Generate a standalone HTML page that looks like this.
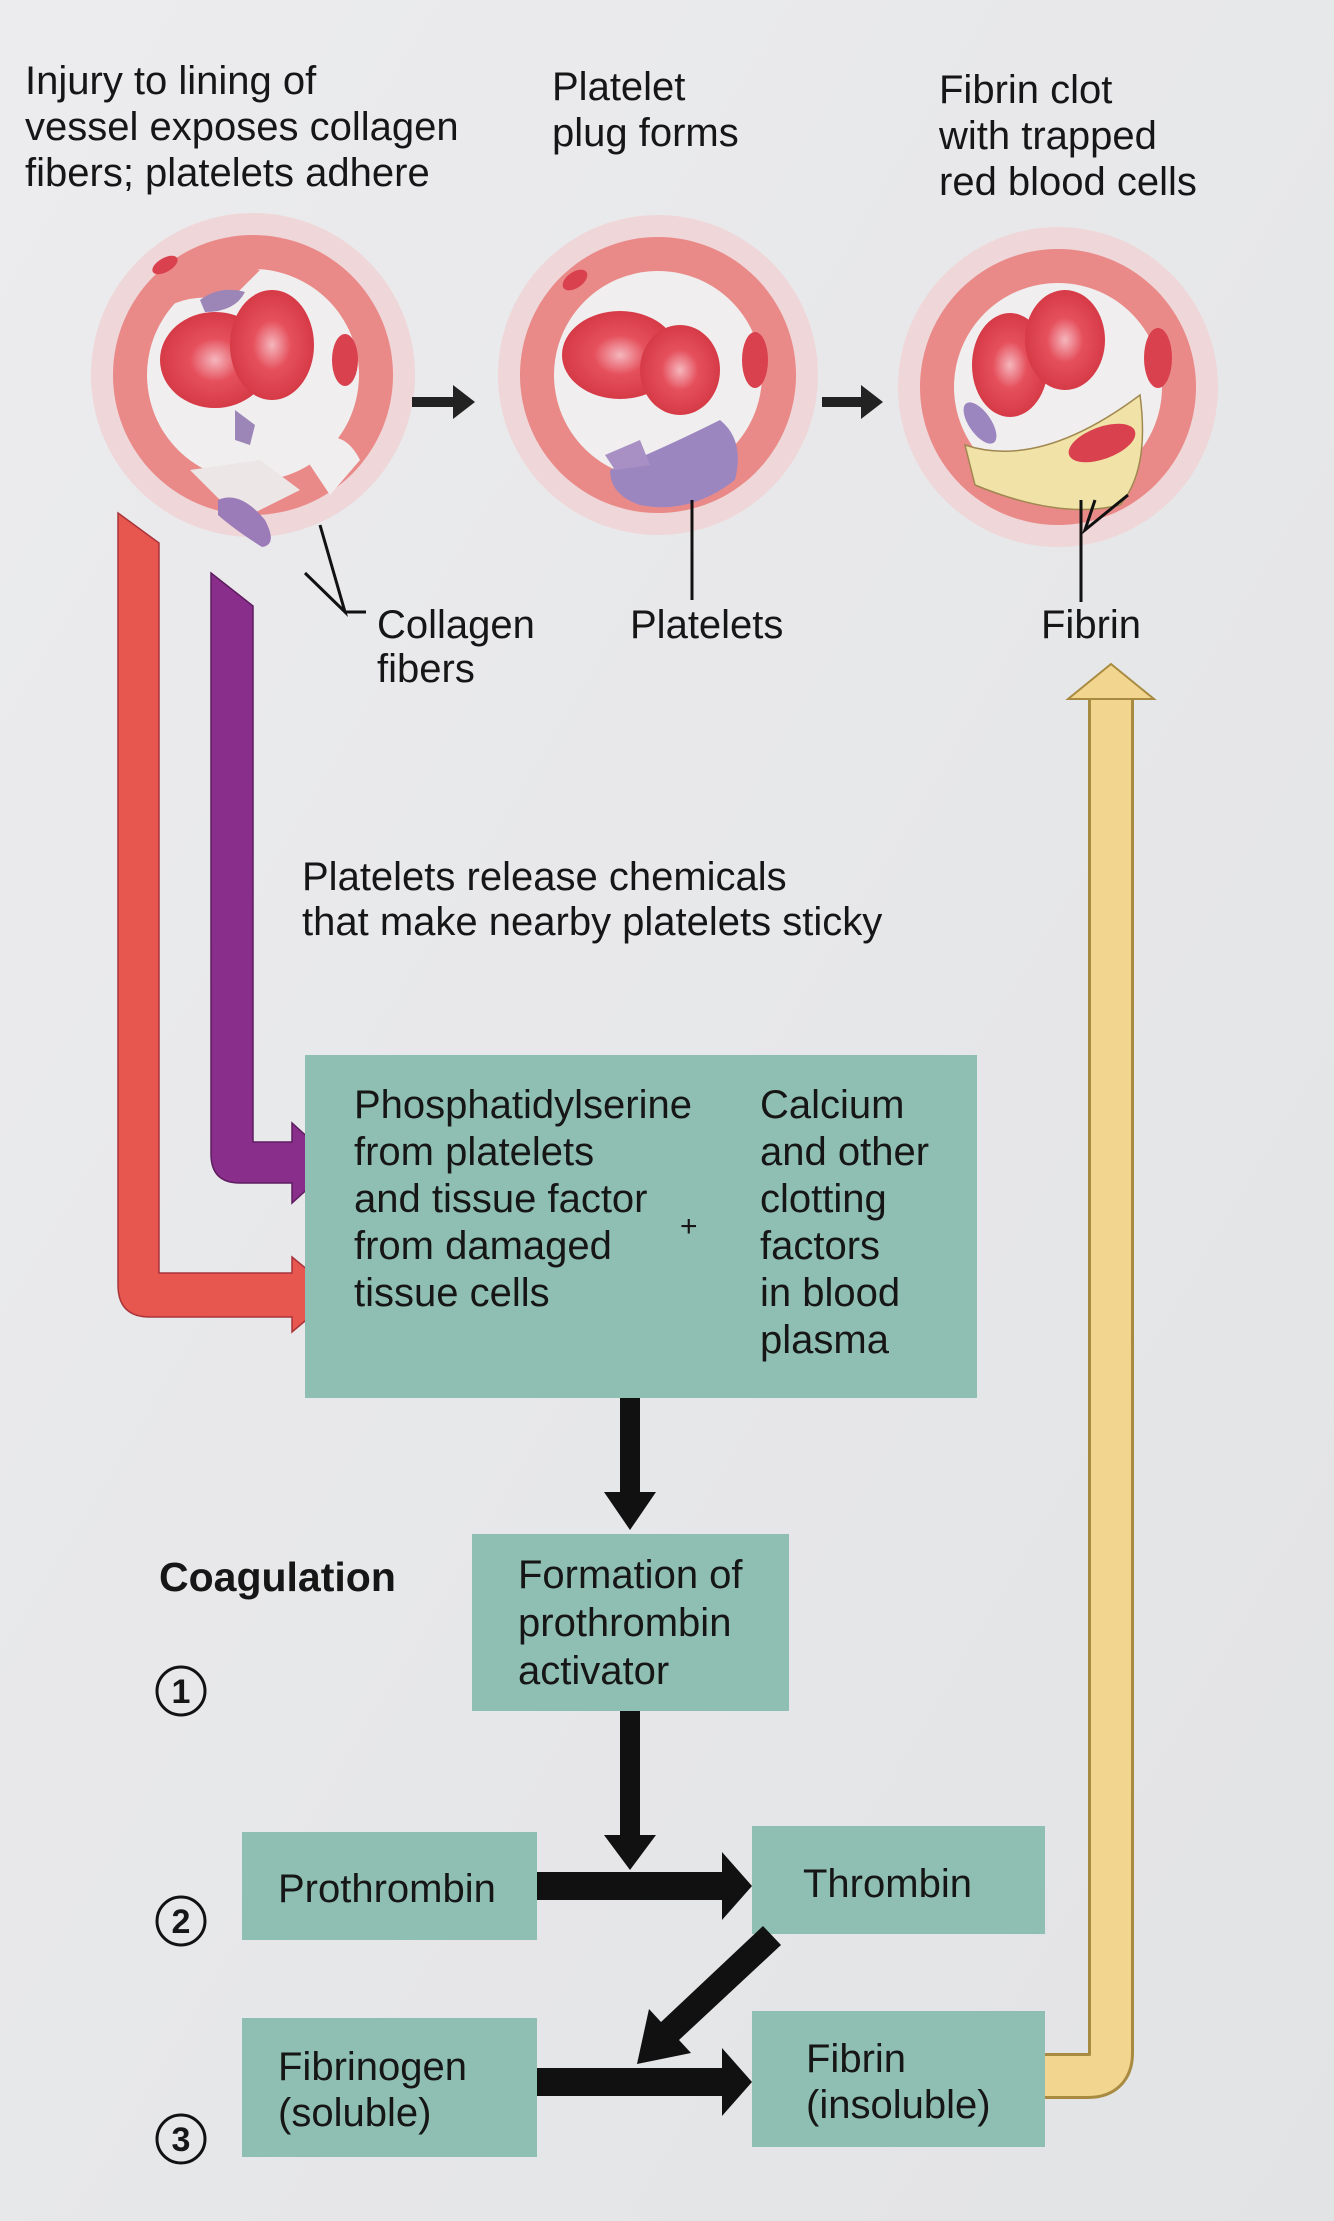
<!DOCTYPE html>
<html><head><meta charset="utf-8"><style>
html,body{margin:0;padding:0;background:#e8e8ea;}
svg{display:block}
text{font-family:"Liberation Sans",Arial,sans-serif;fill:#161616}
</style></head><body>
<svg width="1334" height="2221" viewBox="0 0 1334 2221" xmlns="http://www.w3.org/2000/svg">
<defs>
<linearGradient id="bg" x1="0" y1="0" x2="1" y2="1"><stop offset="0" stop-color="#ececee"/><stop offset="1" stop-color="#e2e3e5"/></linearGradient>
<radialGradient id="rbc" cx="0.5" cy="0.5" r="0.5"><stop offset="0" stop-color="#f5b6bd"/><stop offset="0.45" stop-color="#e5505c"/><stop offset="1" stop-color="#d63a47"/></radialGradient>
</defs>
<rect width="1334" height="2221" fill="url(#bg)"/>

<!-- Top labels -->
<g font-size="40">
<text x="25" y="94">Injury to lining of</text>
<text x="25" y="140">vessel exposes collagen</text>
<text x="25" y="186">fibers; platelets adhere</text>
<text x="552" y="100">Platelet</text>
<text x="552" y="146">plug forms</text>
<text x="939" y="103">Fibrin clot</text>
<text x="939" y="149">with trapped</text>
<text x="939" y="195">red blood cells</text>
</g>

<!-- Circle 1 -->
<g>
<circle cx="253" cy="375" r="162" fill="#efd6d8"/>
<circle cx="253" cy="375" r="140" fill="#e98a88"/>
<circle cx="253" cy="375" r="106" fill="#f0eeee"/>
<path d="M140,300 Q200,250 260,270 L230,300 Q180,290 150,320 Z" fill="#e98a88"/>
<path d="M300,450 Q340,420 360,460 L330,495 Z" fill="#f0eeee"/>
<path d="M190,470 L240,520 L300,490 L260,460 Z" fill="#ece6e7"/>
<ellipse cx="215" cy="360" rx="55" ry="48" fill="url(#rbc)"/>
<ellipse cx="272" cy="345" rx="42" ry="55" fill="url(#rbc)"/>
<ellipse cx="345" cy="360" rx="13" ry="26" fill="#d9414f"/>
<ellipse cx="165" cy="265" rx="14" ry="7" fill="#d9414f" transform="rotate(-30 165 265)"/>
<path d="M200,300 Q220,285 245,292 Q235,312 205,312 Z" fill="#9c86b8"/>
<path d="M235,410 L255,425 L250,445 L235,440 Z" fill="#9c86b8"/>
<path d="M218,500 Q240,490 265,520 Q278,545 262,547 Q235,530 218,515 Z" fill="#9c7cb8"/>
<path d="M320,525 L345,612 L305,573" fill="none" stroke="#111" stroke-width="3"/>
<line x1="345" y1="612" x2="366" y2="612" stroke="#111" stroke-width="3"/>
</g>
<g font-size="40"><text x="377" y="638">Collagen</text><text x="377" y="682">fibers</text></g>

<!-- arrow 1->2 -->
<path d="M412,397 H453 V385 L475,402 L453,419 V407 H412 Z" fill="#222"/>
<!-- Circle 2 -->
<g>
<circle cx="658" cy="375" r="160" fill="#efd6d8"/>
<circle cx="658" cy="375" r="138" fill="#e98a88"/>
<circle cx="658" cy="375" r="104" fill="#f0eeee"/>
<ellipse cx="620" cy="355" rx="58" ry="44" fill="url(#rbc)"/>
<ellipse cx="680" cy="370" rx="40" ry="45" fill="url(#rbc)"/>
<ellipse cx="755" cy="360" rx="13" ry="28" fill="#d9414f"/>
<ellipse cx="575" cy="280" rx="14" ry="8" fill="#d9414f" transform="rotate(-35 575 280)"/>
<path d="M610,470 Q660,450 720,420 Q745,440 735,480 Q690,515 640,505 Q610,495 610,470 Z" fill="#9c86c0"/>
<path d="M605,455 L640,440 L650,465 L615,470 Z" fill="#a890c4"/>
<line x1="692" y1="500" x2="692" y2="600" stroke="#111" stroke-width="3"/>
</g>
<text x="630" y="638" font-size="40">Platelets</text>

<!-- arrow 2->3 -->
<path d="M822,397 H861 V385 L883,402 L861,419 V407 H822 Z" fill="#222"/>
<!-- Circle 3 -->
<g>
<circle cx="1058" cy="387" r="160" fill="#efd6d8"/>
<circle cx="1058" cy="387" r="138" fill="#e98a88"/>
<circle cx="1058" cy="387" r="104" fill="#f0eeee"/>
<path d="M965,445 Q1040,470 1140,395 Q1150,470 1120,505 Q1060,520 975,485 Z" fill="#f1e2a8" stroke="#a08850" stroke-width="1.5"/>
<ellipse cx="1010" cy="365" rx="38" ry="52" fill="url(#rbc)"/>
<ellipse cx="1065" cy="340" rx="40" ry="50" fill="url(#rbc)"/>
<ellipse cx="1102" cy="443" rx="35" ry="16" fill="#d9414f" transform="rotate(-20 1102 443)"/>
<ellipse cx="1158" cy="358" rx="14" ry="30" fill="#d9414f"/>
<ellipse cx="980" cy="423" rx="11" ry="24" fill="#9c86c0" transform="rotate(-35 980 423)"/>
<path d="M1095,500 L1085,530 L1128,495" fill="none" stroke="#111" stroke-width="3"/>
<line x1="1081" y1="500" x2="1081" y2="602" stroke="#111" stroke-width="3"/>
</g>
<text x="1041" y="638" font-size="40">Fibrin</text>

<!-- Yellow arrow -->
<path d="M1045,2076 H1088 Q1111,2076 1111,2053 V697" fill="none" stroke="#a88a40" stroke-width="46"/>
<path d="M1045,2076 H1088 Q1111,2076 1111,2053 V697" fill="none" stroke="#f2d58e" stroke-width="40"/>
<path d="M1068,699 L1111,664 L1154,699 Z" fill="#f2d58e" stroke="#a88a40" stroke-width="2"/>

<!-- Red arrow -->
<path d="M118,513 L159,543 V1273 H292 V1257 L337,1294 L292,1332 V1317 H150 Q118,1317 118,1285 Z" fill="#e8574f" stroke="#a8343a" stroke-width="1.5"/>
<!-- Purple arrow -->
<path d="M211,573 L253,606 V1142 H292 V1123 L336,1163 L292,1203 V1183 H240 Q211,1183 211,1154 Z" fill="#8a2e8c" stroke="#5e1d60" stroke-width="1.5"/>

<g font-size="40"><text x="302" y="890">Platelets release chemicals</text><text x="302" y="935">that make nearby platelets sticky</text></g>

<!-- Green big box -->
<rect x="305" y="1055" width="672" height="343" fill="#8fbfb2"/>
<g font-size="40">
<text x="354" y="1118">Phosphatidylserine</text>
<text x="354" y="1165">from platelets</text>
<text x="354" y="1212">and tissue factor</text>
<text x="354" y="1259">from damaged</text>
<text x="354" y="1306">tissue cells</text>
<text x="760" y="1118">Calcium</text>
<text x="760" y="1165">and other</text>
<text x="760" y="1212">clotting</text>
<text x="760" y="1259">factors</text>
<text x="760" y="1306">in blood</text>
<text x="760" y="1353">plasma</text>
<text x="680" y="1236" font-size="30">+</text>
</g>

<!-- arrow down to formation -->
<path d="M620,1398 H640 V1492 H656 L630,1530 L604,1492 H620 Z" fill="#111"/>

<text x="159" y="1591" font-size="41" font-weight="bold">Coagulation</text>
<g font-size="34" font-weight="bold">
<circle cx="181" cy="1691" r="24" fill="none" stroke="#111" stroke-width="3"/><text x="181" y="1703" text-anchor="middle">1</text>
<circle cx="181" cy="1921" r="24" fill="none" stroke="#111" stroke-width="3"/><text x="181" y="1933" text-anchor="middle">2</text>
<circle cx="181" cy="2139" r="24" fill="none" stroke="#111" stroke-width="3"/><text x="181" y="2151" text-anchor="middle">3</text>
</g>

<rect x="472" y="1534" width="317" height="177" fill="#8fbfb2"/>
<g font-size="40"><text x="518" y="1588">Formation of</text><text x="518" y="1636">prothrombin</text><text x="518" y="1684">activator</text></g>

<path d="M620,1711 H640 V1835 H656 L630,1870 L604,1835 H620 Z" fill="#111"/>

<rect x="242" y="1832" width="295" height="108" fill="#8fbfb2"/>
<text x="278" y="1902" font-size="40">Prothrombin</text>
<rect x="752" y="1826" width="293" height="108" fill="#8fbfb2"/>
<text x="803" y="1897" font-size="40">Thrombin</text>

<path d="M537,1872 H722 V1852 L752,1886 L722,1920 V1900 H537 Z" fill="#111"/>
<!-- diagonal -->
<path d="M763,1926 L781,1945 L679,2040 L691,2053 L637,2064 L649,2009 L661,2022 Z" fill="#111"/>

<rect x="242" y="2018" width="295" height="139" fill="#8fbfb2"/>
<g font-size="40"><text x="278" y="2080">Fibrinogen</text><text x="278" y="2126">(soluble)</text></g>
<rect x="752" y="2011" width="293" height="136" fill="#8fbfb2"/>
<g font-size="40"><text x="806" y="2072">Fibrin</text><text x="806" y="2118">(insoluble)</text></g>

<path d="M537,2068 H722 V2048 L752,2082 L722,2116 V2096 H537 Z" fill="#111"/>
</svg>
</body></html>
